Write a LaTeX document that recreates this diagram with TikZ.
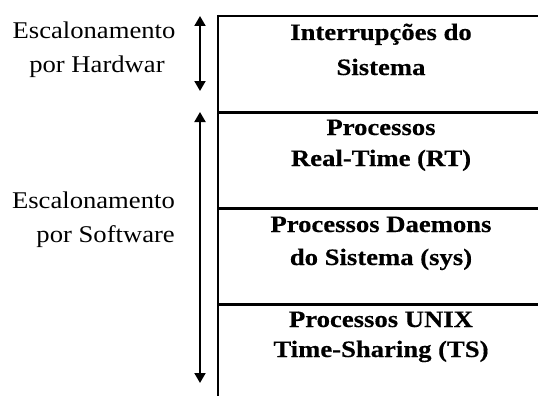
\documentclass[tikz,border=0pt]{standalone}
\usepackage{fontspec}
\setmainfont{Liberation Serif}
\newfontfamily\sidefont[FakeStretch=1.11]{Liberation Serif}
\newfontfamily\layerfont[FakeStretch=1.135,FakeBold=0.4]{Liberation Serif}
\usetikzlibrary{arrows.meta}
\begin{document}
\begin{tikzpicture}[x=1pt,y=-1pt,
  sidetext/.style={anchor=base,inner sep=0pt,font=\sidefont\fontsize{24}{32}\selectfont},
  layertext/.style={anchor=base,inner sep=0pt,font=\layerfont\bfseries\fontsize{23.5}{32}\selectfont},
  divider/.style={line width=3pt},
  schedspan/.style={line width=2pt,{Triangle[width=11pt,length=10pt]}-{Triangle[width=11pt,length=10pt]}}]
\useasboundingbox (0,0) rectangle (538,396);

% stack outline
\draw[line width=2.5pt] (218,14.8) -- (218,396);
\draw[line width=2pt] (217,16) -- (540,16);
\draw[divider] (217,112) -- (540,112);
\draw[divider] (217,208) -- (540,208);
\draw[divider] (217,304) -- (540,304);

% layer labels
\node[layertext] (int1) at (381,40) {Interrupções do};
\node[layertext] (int2) at (381,75) {Sistema};
\node[layertext] (rt1) at (381,135) {Processos};
\node[layertext] (rt2) at (381,166) {Real-Time (RT)};
\node[layertext] (sys1) at (381,232) {Processos Daemons};
\node[layertext] (sys2) at (381,265) {do Sistema (sys)};
\node[layertext] (ts1) at (381,327) {Processos UNIX};
\node[layertext] (ts2) at (381,357) {Time-Sharing (TS)};

% scheduling ranges
\coordinate (hwtop) at (200,16);
\coordinate (hwbot) at (200,91);
\coordinate (swtop) at (200,112);
\coordinate (swbot) at (200,383);
\draw[schedspan] (hwtop) -- (hwbot);
\draw[schedspan] (swtop) -- (swbot);

\node[sidetext] (hw1) at (94,39) {Escalonamento};
\node[sidetext] (hw2) at (97,73) {por Hardwar};
\node[sidetext,anchor=base east] (sw1) at (175,208) {Escalonamento};
\node[sidetext,anchor=base east] (sw2) at (175,242) {por Software};
\end{tikzpicture}
\end{document}
